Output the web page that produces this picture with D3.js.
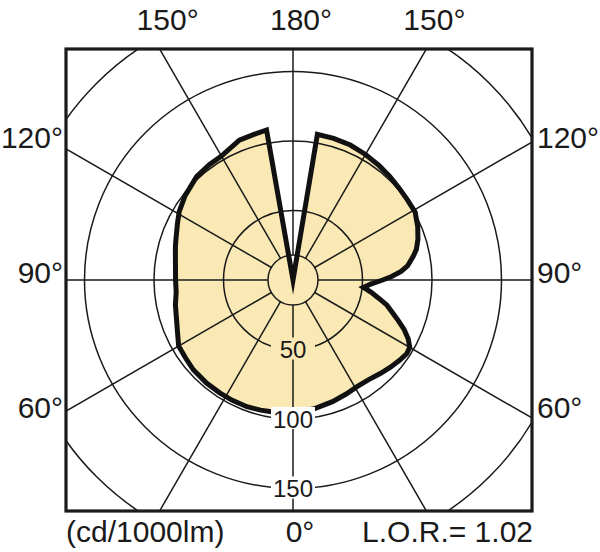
<!DOCTYPE html>
<html>
<head>
<meta charset="utf-8">
<script src="https://cdn.jsdelivr.net/npm/d3@7"></script>
<style>
  html, body { margin: 0; padding: 0; background: #ffffff; }
  svg { display: block; }
  text { font-family: "Liberation Sans", Arial, Helvetica, sans-serif; fill: #1a1a1a; }
</style>
</head>
<body>
<script>
// ---------- DATA (cd/1000lm) ----------
// Right half: angle from nadir (0°) to zenith (180°)
const rightAngles = [0, 9, 18, 25, 31, 37, 43, 48, 53, 57, 60, 63, 66, 69, 72, 75, 78, 81, 84, 87, 90, 92, 94.5, 97, 101, 104, 108, 113, 119, 125, 131, 137, 143, 150, 157, 164, 170.5, 180];
const rightValues = [95, 94, 92, 90.5, 89.5, 90, 92, 94, 96, 97.5, 97, 93, 87.5, 81, 75, 70, 63, 57, 51, 56, 64.5, 71, 78, 83, 88, 91.5, 94.5, 97.5, 100.5, 100.5, 101, 102, 103, 104.3, 105.5, 106, 106.3, 0];
// Left half: angle from nadir (0°) to zenith (180°)
const leftAngles = [0, 8.6, 14, 20, 27, 33, 40, 48, 54, 60, 66, 72.5, 78, 84, 90, 96, 102, 106, 110, 116, 121, 128, 137, 144, 150, 159, 165, 170];
const leftValues = [95, 96, 96.5, 97, 97, 96.8, 96.8, 96.5, 95.5, 95, 91, 88, 86.5, 84.5, 84.5, 85, 86.5, 88, 89.5, 92.5, 95.5, 98.5, 101.7, 102.5, 103, 107.7, 108.5, 109.6];

const ringValues = [18, 50, 100, 150, 200];
const ringLabels = [50, 100, 150];
const spokeAngles = [0, 30, 60, 90, 120, 150, 180, 210, 240, 270, 300, 330];
const topAngleLabels = [150, 180, 150];
const sideAngleLabels = [120, 90, 60];
const unitLabel = "(cd/1000lm)";
const bottomAngleLabel = "0°";
const lorLabel = "L.O.R.= 1.02";

// ---------- LAYOUT ----------
const W = 600, H = 552;
const frame = { x0: 66, x1: 532, y0: 49, y1: 511 };
const cx = 293, cy = 280;
const maxVal = 200, maxR = 278;
const fillColor = "#fae9b5";

const r = d3.scaleLinear().domain([0, maxVal]).range([0, maxR]);
const toRad = d => d * Math.PI / 180;

const svg = d3.select("body").append("svg").attr("width", W).attr("height", H);

svg.append("clipPath").attr("id", "frameClip")
  .append("rect")
  .attr("x", frame.x0).attr("y", frame.y0)
  .attr("width", frame.x1 - frame.x0).attr("height", frame.y1 - frame.y0);

const plot = svg.append("g").attr("clip-path", "url(#frameClip)");
const g = plot.append("g").attr("transform", `translate(${cx},${cy})`);

// curve points: right half from zenith down to nadir, then left half from nadir up to zenith
const pts = [];
for (let i = rightAngles.length - 1; i >= 0; i--) {
  pts.push({ a: Math.PI - toRad(rightAngles[i]), v: rightValues[i] });
}
for (let i = 1; i < leftAngles.length; i++) {
  pts.push({ a: Math.PI + toRad(leftAngles[i]), v: leftValues[i] });
}
const radial = d3.lineRadial()
  .angle(d => d.a)
  .radius(d => r(d.v))
  .curve(d3.curveLinearClosed);

// fill
g.append("path").attr("d", radial(pts)).attr("fill", fillColor).attr("stroke", "none");

// rings
g.selectAll("circle.ring").data(ringValues).enter().append("circle")
  .attr("class", "ring")
  .attr("r", d => r(d))
  .attr("fill", "none").attr("stroke", "#1a1a1a").attr("stroke-width", 1.5);

// spokes (angle measured from nadir)
g.selectAll("line.spoke").data(spokeAngles).enter().append("line")
  .attr("class", "spoke")
  .attr("x1", d => r(ringValues[0]) * Math.sin(toRad(d)))
  .attr("y1", d => r(ringValues[0]) * Math.cos(toRad(d)))
  .attr("x2", d => r(400) * Math.sin(toRad(d)))
  .attr("y2", d => r(400) * Math.cos(toRad(d)))
  .attr("stroke", "#1a1a1a").attr("stroke-width", 1.5);

// curve outline
g.append("path").attr("d", radial(pts))
  .attr("fill", "none").attr("stroke", "#111").attr("stroke-width", 5)
  .attr("stroke-linejoin", "miter").attr("stroke-miterlimit", 10);

// ring labels with background
const nadirValue = rightValues[0];
const rl = g.selectAll("g.rl").data(ringLabels).enter().append("g")
  .attr("class", "rl")
  .attr("transform", d => `translate(0,${r(d)})`);
rl.append("rect")
  .attr("x", -22).attr("y", -12).attr("width", 44).attr("height", 22)
  .attr("fill", d => d < nadirValue ? fillColor : "#ffffff");
rl.append("text")
  .attr("text-anchor", "middle").attr("y", 8.5)
  .attr("font-size", 24)
  .text(d => d);

// frame
svg.append("rect")
  .attr("x", frame.x0).attr("y", frame.y0)
  .attr("width", frame.x1 - frame.x0).attr("height", frame.y1 - frame.y0)
  .attr("fill", "none").attr("stroke", "#1a1a1a").attr("stroke-width", 3.2);

// top angle labels: where spokes meet the top edge
const topDy = cy - frame.y0;
const topOffsets = [-1, 0, 1];
svg.selectAll("text.top").data(topAngleLabels).enter().append("text")
  .attr("class", "top")
  .attr("x", (d, i) => cx + topOffsets[i] * topDy * Math.tan(toRad(180 - d)) + 8)
  .attr("y", 30)
  .attr("text-anchor", "middle")
  .attr("font-size", 30)
  .text(d => d + "°");

// side labels: level with where the spokes meet the frame sides
const sideDx = ((cx - frame.x0) + (frame.x1 - cx)) / 2;
function sideY(deg) {
  return cy - sideDx * Math.tan(toRad(deg - 90));
}
svg.selectAll("text.left").data(sideAngleLabels).enter().append("text")
  .attr("class", "left")
  .attr("x", frame.x0 - 3)
  .attr("y", d => sideY(d) + 3)
  .attr("text-anchor", "end")
  .attr("font-size", 30)
  .text(d => d + "°");
svg.selectAll("text.right").data(sideAngleLabels).enter().append("text")
  .attr("class", "right")
  .attr("x", frame.x1 + 5)
  .attr("y", d => sideY(d) + 3)
  .attr("text-anchor", "start")
  .attr("font-size", 30)
  .text(d => d + "°");

// bottom labels
svg.append("text").attr("x", frame.x0).attr("y", 542)
  .attr("text-anchor", "start").attr("font-size", 30).text(unitLabel);
svg.append("text").attr("x", cx + 7).attr("y", 542)
  .attr("text-anchor", "middle").attr("font-size", 30).text(bottomAngleLabel);
svg.append("text").attr("x", frame.x1 + 1).attr("y", 542)
  .attr("text-anchor", "end").attr("font-size", 30).text(lorLabel);
</script>
</body>
</html>
